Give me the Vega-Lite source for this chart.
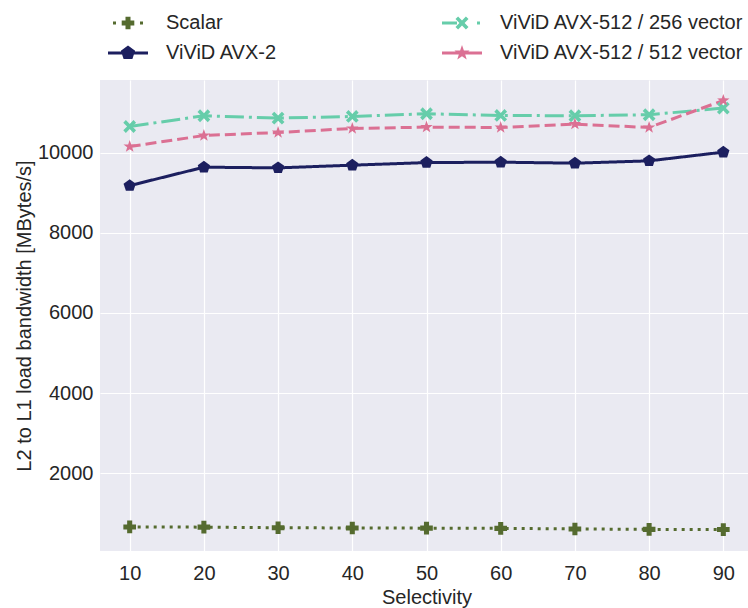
{
  "$schema": "https://vega.github.io/schema/vega-lite/v6.json",
  "autosize": {"type": "none"},
  "padding": {"left": 100, "top": 80, "right": 0, "bottom": 57},
  "width": 653,
  "height": 471,
  "background": "white",
  "config": {
    "view": {"fill": "#EAEAF2", "stroke": null},
    "font": "Liberation Sans",
    "axis": {
      "grid": true, "gridColor": "#FFFFFF", "gridWidth": 1.2,
      "domain": false, "ticks": false,
      "labelFont": "Liberation Sans", "labelFontSize": 20, "labelColor": "#262626",
      "titleFont": "Liberation Sans", "titleFontSize": 20, "titleFontWeight": "normal", "titleColor": "#262626"
    }
  },
  "data": {"values": [
    {"sel": 10, "series": "Scalar", "bw": 660},
    {"sel": 20, "series": "Scalar", "bw": 655},
    {"sel": 30, "series": "Scalar", "bw": 640},
    {"sel": 40, "series": "Scalar", "bw": 635},
    {"sel": 50, "series": "Scalar", "bw": 630},
    {"sel": 60, "series": "Scalar", "bw": 625},
    {"sel": 70, "series": "Scalar", "bw": 610},
    {"sel": 80, "series": "Scalar", "bw": 600},
    {"sel": 90, "series": "Scalar", "bw": 595},
    {"sel": 10, "series": "ViViD AVX-2", "bw": 9175},
    {"sel": 20, "series": "ViViD AVX-2", "bw": 9635},
    {"sel": 30, "series": "ViViD AVX-2", "bw": 9618},
    {"sel": 40, "series": "ViViD AVX-2", "bw": 9685},
    {"sel": 50, "series": "ViViD AVX-2", "bw": 9750},
    {"sel": 60, "series": "ViViD AVX-2", "bw": 9760},
    {"sel": 70, "series": "ViViD AVX-2", "bw": 9735},
    {"sel": 80, "series": "ViViD AVX-2", "bw": 9793},
    {"sel": 90, "series": "ViViD AVX-2", "bw": 10010},
    {"sel": 10, "series": "ViViD AVX-512 / 256 vector", "bw": 10650},
    {"sel": 20, "series": "ViViD AVX-512 / 256 vector", "bw": 10918},
    {"sel": 30, "series": "ViViD AVX-512 / 256 vector", "bw": 10860},
    {"sel": 40, "series": "ViViD AVX-512 / 256 vector", "bw": 10900},
    {"sel": 50, "series": "ViViD AVX-512 / 256 vector", "bw": 10968},
    {"sel": 60, "series": "ViViD AVX-512 / 256 vector", "bw": 10925},
    {"sel": 70, "series": "ViViD AVX-512 / 256 vector", "bw": 10918},
    {"sel": 80, "series": "ViViD AVX-512 / 256 vector", "bw": 10943},
    {"sel": 90, "series": "ViViD AVX-512 / 256 vector", "bw": 11110},
    {"sel": 10, "series": "ViViD AVX-512 / 512 vector", "bw": 10150},
    {"sel": 20, "series": "ViViD AVX-512 / 512 vector", "bw": 10425},
    {"sel": 30, "series": "ViViD AVX-512 / 512 vector", "bw": 10500},
    {"sel": 40, "series": "ViViD AVX-512 / 512 vector", "bw": 10600},
    {"sel": 50, "series": "ViViD AVX-512 / 512 vector", "bw": 10635},
    {"sel": 60, "series": "ViViD AVX-512 / 512 vector", "bw": 10625},
    {"sel": 70, "series": "ViViD AVX-512 / 512 vector", "bw": 10710},
    {"sel": 80, "series": "ViViD AVX-512 / 512 vector", "bw": 10625},
    {"sel": 90, "series": "ViViD AVX-512 / 512 vector", "bw": 11300}
  ]},
  "encoding": {
    "x": {
      "field": "sel", "type": "quantitative",
      "scale": {"domain": [6, 94], "nice": false, "zero": false},
      "axis": {"values": [10, 20, 30, 40, 50, 60, 70, 80, 90], "title": "Selectivity", "labelPadding": 12, "titlePadding": 4}
    },
    "y": {
      "field": "bw", "type": "quantitative",
      "scale": {"domain": [60, 11810], "nice": false, "zero": false},
      "axis": {"values": [2000, 4000, 6000, 8000, 10000], "format": "d", "title": "L2 to L1 load bandwidth [MBytes/s]", "labelPadding": 7, "titlePadding": 3}
    },
    "color": {
      "field": "series", "type": "nominal",
      "scale": {
        "domain": ["Scalar", "ViViD AVX-2", "ViViD AVX-512 / 256 vector", "ViViD AVX-512 / 512 vector"],
        "range": ["#556B2F", "#1C1F5F", "#66CDAA", "#DB7093"]
      },
      "legend": {
        "title": null, "orient": "none", "legendX": 18, "legendY": -67,
        "direction": "vertical",
        "values": ["Scalar", "ViViD AVX-2", "ViViD AVX-512 / 256 vector", "ViViD AVX-512 / 512 vector"],
        "columns": 2, "columnPadding": 164, "rowPadding": 10, "padding": 0,
        "symbolSize": 400, "labelOffset": 28, "labelLimit": 400,
        "labelFont": "Liberation Sans", "labelFontSize": 20, "labelColor": "#262626",
        "encode": {
          "symbols": {
            "update": {
              "shape": {"signal": "datum.value === 'Scalar' ? 'M-1.5,-0.15L-1.2,-0.15L-1.2,0.15L-1.5,0.15Z M1.2,-0.15L1.5,-0.15L1.5,0.15L1.2,0.15Z M-0.25,-0.63L0.25,-0.63L0.25,-0.25L0.63,-0.25L0.63,0.25L0.25,0.25L0.25,0.63L-0.25,0.63L-0.25,0.25L-0.63,0.25L-0.63,-0.25L-0.25,-0.25Z' : datum.value === 'ViViD AVX-2' ? 'M-2,-0.15L2,-0.15L2,0.15L-2,0.15Z M0,-0.75L0.713,-0.232L0.441,0.607L-0.441,0.607L-0.713,-0.232Z' : datum.value === 'ViViD AVX-512 / 256 vector' ? 'M-2,-0.15L-0.5,-0.15L-0.5,0.15L-2,0.15Z M1.5,-0.15L1.8,-0.15L1.8,0.15L1.5,0.15Z M-0.65,-0.39L-0.39,-0.65L0,-0.26L0.39,-0.65L0.65,-0.39L0.26,0L0.65,0.39L0.39,0.65L0,0.26L-0.39,0.65L-0.65,0.39L-0.26,0Z' : 'M-2,-0.15L2,-0.15L2,0.15L-2,0.15Z M0,-0.8L0.188,-0.259L0.761,-0.247L0.304,0.099L0.470,0.647L0,0.32L-0.470,0.647L-0.304,0.099L-0.761,-0.247L-0.188,-0.259Z'"},
              "fill": {"scale": "color", "field": "value"},
              "stroke": {"value": "transparent"},
              "strokeWidth": {"value": 0},
              "opacity": {"value": 1}
            }
          }
        }
      }
    }
  },
  "layer": [
    {
      "mark": {"type": "line", "strokeWidth": 3, "clip": true},
      "encoding": {
        "strokeDash": {
          "field": "series", "type": "nominal",
          "scale": {
            "domain": ["Scalar", "ViViD AVX-512 / 256 vector", "ViViD AVX-2", "ViViD AVX-512 / 512 vector"],
            "range": [[3, 5], [19, 5, 3, 5], [1, 0], [11, 5]]
          },
          "legend": null
        }
      }
    },
    {
      "mark": {"type": "point", "filled": true, "opacity": 1, "clip": true},
      "encoding": {
        "shape": {
          "field": "series", "type": "nominal",
          "scale": {
            "domain": ["Scalar", "ViViD AVX-512 / 256 vector", "ViViD AVX-2", "ViViD AVX-512 / 512 vector"],
            "range": ["cross", "M-1,-0.6L-0.6,-1L0,-0.4L0.6,-1L1,-0.6L0.4,0L1,0.6L0.6,1L0,0.4L-0.6,1L-1,0.6L-0.4,0Z", "M0,-1L0.951,-0.309L0.588,0.809L-0.588,0.809L-0.951,-0.309Z", "M0,-1L0.235,-0.324L0.951,-0.309L0.380,0.124L0.588,0.809L0,0.4L-0.588,0.809L-0.380,0.124L-0.951,-0.309L-0.235,-0.324Z"]
          },
          "legend": null
        },
        "size": {
          "field": "series", "type": "ordinal",
          "scale": {
            "domain": ["Scalar", "ViViD AVX-512 / 256 vector", "ViViD AVX-2", "ViViD AVX-512 / 512 vector"],
            "range": [160, 170, 250, 180]
          },
          "legend": null
        }
      }
    }
  ]
}
